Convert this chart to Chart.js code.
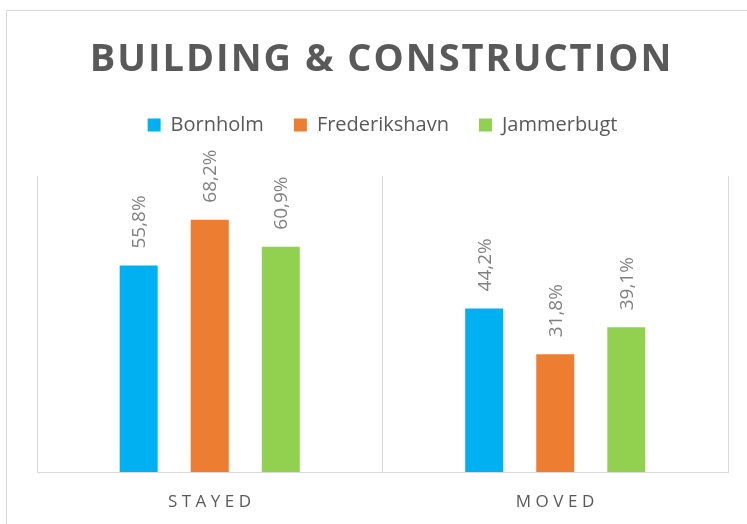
<!DOCTYPE html>
<html>
<head>
<meta charset="utf-8">
<title>Building & Construction</title>
<script src="https://cdn.jsdelivr.net/npm/chart.js@4.4.1/dist/chart.umd.min.js"></script>
<style>
  html, body { margin: 0; padding: 0; background: #fff; overflow: hidden; }
  #frame { position: absolute; left: 6px; top: 10px; width: 800px; height: 600px; border: 1px solid #d9d9d9; }
  #wrap { position: absolute; left: 0; top: 0; width: 747px; height: 524px; }
</style>
</head>
<body>
<div id="frame"></div>
<div id="wrap"><canvas id="chart"></canvas></div>
<script>
// --- data ---
const chartTitle = "BUILDING & CONSTRUCTION";
const categories = ["STAYED", "MOVED"];
const seriesNames = ["Bornholm", "Frederikshavn", "Jammerbugt"];
const bornholm = [55.8, 44.2];
const frederikshavn = [68.2, 31.8];
const jammerbugt = [60.9, 39.1];
const seriesColors = ["#00B0F0", "#ED7D31", "#92D050"];

const FONT = "'Open Sans', sans-serif";

// push the plot area down a bit below the legend
const legendGap = {
  id: "legendGap",
  beforeInit(chart) {
    const fit = chart.legend.fit;
    chart.legend.fit = function () {
      fit.bind(chart.legend)();
      this.height += 31;
    };
  }
};

// title, category labels and rotated value labels
const extraText = {
  id: "extraText",
  afterDraw(chart) {
    const ctx = chart.ctx;
    const area = chart.chartArea;
    const xs = chart.scales.x;

    // title
    ctx.save();
    ctx.font = "bold 38px " + FONT;
    ctx.fillStyle = "#595959";
    ctx.letterSpacing = "2px";
    ctx.textAlign = "center";
    ctx.textBaseline = "alphabetic";
    ctx.fillText(chartTitle, (area.left + area.right) / 2 + 1 - 2, 71);
    ctx.restore();

    // category labels
    ctx.save();
    ctx.font = "17px " + FONT;
    ctx.fillStyle = "#595959";
    ctx.letterSpacing = "4.5px";
    ctx.textAlign = "center";
    ctx.textBaseline = "alphabetic";
    categories.forEach((c, i) => {
      ctx.fillText(c, xs.getPixelForValue(i) + 2, area.bottom + 35);
    });
    ctx.restore();

    // value labels
    ctx.save();
    ctx.font = "19px " + FONT;
    ctx.fillStyle = "#808080";
    ctx.textAlign = "left";
    ctx.textBaseline = "middle";
    chart.data.datasets.forEach((ds, di) => {
      const meta = chart.getDatasetMeta(di);
      meta.data.forEach((bar, i) => {
        const txt = ds.data[i].toFixed(1).replace(".", ",") + "%";
        ctx.save();
        ctx.translate(bar.x, bar.y - 17);
        ctx.rotate(-Math.PI / 2);
        ctx.fillText(txt, 0, 1);
        ctx.restore();
      });
    });
    ctx.restore();
  }
};

const seriesData = [bornholm, frederikshavn, jammerbugt];

new Chart(document.getElementById("chart"), {
  type: "bar",
  data: {
    labels: categories,
    datasets: seriesNames.map((name, i) => ({
      label: name,
      data: seriesData[i],
      backgroundColor: seriesColors[i],
      borderWidth: 0,
      categoryPercentage: 0.617,
      barPercentage: 0.535
    }))
  },
  options: {
    responsive: true,
    maintainAspectRatio: false,
    animation: false,
    layout: { padding: { top: 85, left: 37, right: 19, bottom: 52 } },
    scales: {
      x: {
        grid: { color: "#d9d9d9", drawTicks: false, offset: true },
        border: { color: "#d9d9d9" },
        ticks: { display: false }
      },
      y: {
        display: false,
        min: 0,
        max: 80
      }
    },
    plugins: {
      title: { display: false },
      tooltip: { enabled: false },
      legend: {
        position: "top",
        labels: {
          font: { family: FONT, size: 20 },
          color: "#595959",
          boxWidth: 13,
          boxHeight: 13,
          padding: 30
        }
      }
    }
  },
  plugins: [legendGap, extraText]
});
</script>
</body>
</html>
